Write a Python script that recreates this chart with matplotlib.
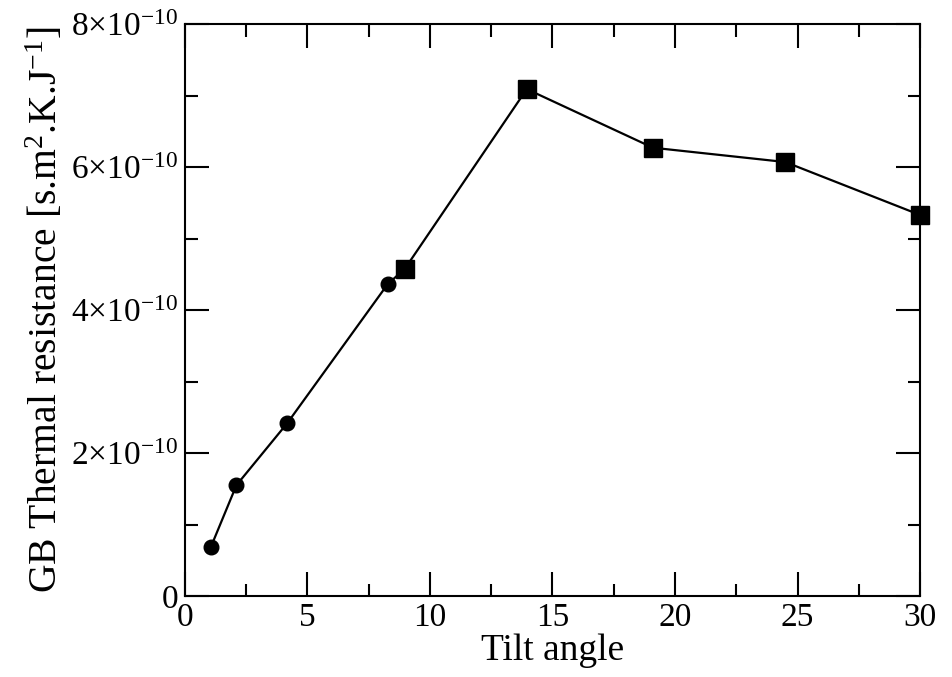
import matplotlib
matplotlib.use('Agg')
import matplotlib.pyplot as plt
import numpy as np

# tilt angles and GB thermal resistance
circle_angle = [1.05, 2.1, 4.18, 8.27]
circle_res = [0.68e-10, 1.55e-10, 2.42e-10, 4.36e-10]
square_angle = [8.98, 13.95, 19.1, 24.5, 30.0]
square_res = [4.58e-10, 7.09e-10, 6.27e-10, 6.07e-10, 5.33e-10]

y_ticks = [0, 2e-10, 4e-10, 6e-10, 8e-10]
y_labels = ['0', r'$2{\times}10^{-10}$', r'$4{\times}10^{-10}$',
            r'$6{\times}10^{-10}$', r'$8{\times}10^{-10}$']
x_ticks = [0, 5, 10, 15, 20, 25, 30]

plt.rcParams['font.family'] = ['Liberation Serif', 'DejaVu Serif']
plt.rcParams['mathtext.fontset'] = 'custom'
plt.rcParams['mathtext.rm'] = 'Liberation Serif'
plt.rcParams['mathtext.it'] = 'Liberation Serif:italic'
plt.rcParams['mathtext.default'] = 'regular'

fig = plt.figure(figsize=(9.52, 6.77), dpi=100)
ax = fig.add_axes([0.1943, 0.1196, 0.7721, 0.8449])

# one line through all points, then the two marker sets
all_x = circle_angle + square_angle
all_y = circle_res + square_res
ax.plot(all_x, all_y, color='black', lw=1.6, zorder=2, clip_on=False)
ax.plot(circle_angle, circle_res, 'o', color='black', ms=10.5, zorder=3, clip_on=False)
ax.plot(square_angle, square_res, 's', color='black', ms=13.5, zorder=3, clip_on=False)

ax.set_xlim(0, 30)
ax.set_ylim(0, 8e-10)
ax.set_xticks(x_ticks)
ax.set_xticks(np.arange(2.5, 30, 5), minor=True)
ax.set_yticks(y_ticks)
ax.set_yticklabels(y_labels)
ax.set_yticks(np.arange(1e-10, 8e-10, 2e-10), minor=True)

ax.tick_params(which='both', direction='in', top=True, right=True, width=1.5)
ax.tick_params(which='major', length=17, labelsize=24, pad=5)
ax.tick_params(which='minor', length=9)
for s in ax.spines.values():
    s.set_linewidth(1.5)

ax.set_xlabel('Tilt angle', fontsize=27, labelpad=0)
ax.set_ylabel(r'GB Thermal resistance [s.m$^{2}$.K.J$^{-1}$]', fontsize=28.5, labelpad=4)

fig.savefig('out.png', dpi=100)
